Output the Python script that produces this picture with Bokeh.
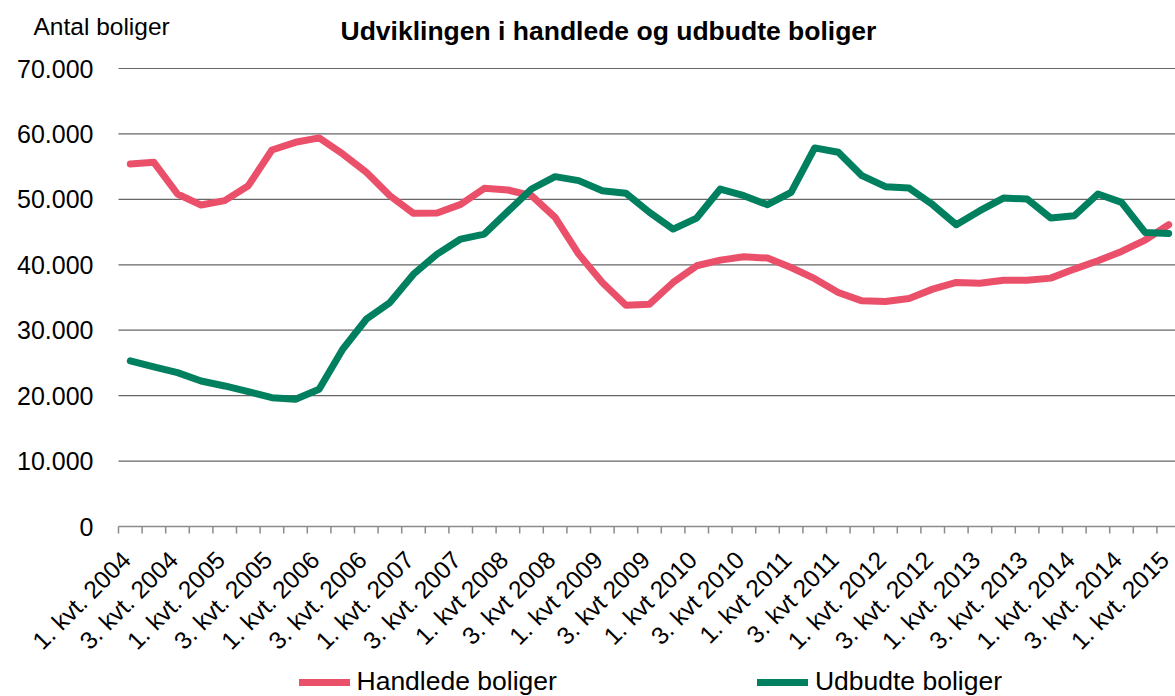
import math
from bokeh.plotting import figure
from bokeh.models import Label, Legend, LegendItem, Range1d
from bokeh.core.properties import value
from bokeh.embed import file_html
from bokeh.resources import INLINE

# ---- data ----
quarters = [f"{q}. kvt. {y}" for y in range(2004, 2016) for q in (1, 2, 3, 4)][:45]
x_tick_labels = ["1. kvt. 2004", "3. kvt. 2004", "1. kvt. 2005", "3. kvt. 2005",
                 "1. kvt. 2006", "3. kvt. 2006", "1. kvt. 2007", "3. kvt. 2007",
                 "1. kvt 2008", "3. kvt 2008", "1. kvt 2009", "3. kvt 2009",
                 "1. kvt 2010", "3. kvt 2010", "1. kvt 2011", "3. kvt 2011",
                 "1. kvt. 2012", "3. kvt. 2012", "1. kvt. 2013", "3. kvt. 2013",
                 "1. kvt. 2014", "3. kvt. 2014", "1. kvt. 2015"]
y_ticks = [0, 10000, 20000, 30000, 40000, 50000, 60000, 70000]
y_tick_labels = ["0", "10.000", "20.000", "30.000", "40.000", "50.000", "60.000", "70.000"]

handlede = [55400, 55660, 50820, 49130, 49800, 52090, 57550, 58720, 59390, 56940,
            54130, 50560, 47860, 47910, 49230, 51680, 51430, 50560, 47240, 41630,
            37300, 33830, 33980, 37300, 39850, 40710, 41220, 41020, 39590, 37880,
            35760, 34490, 34390, 34850, 36280, 37300, 37190, 37650, 37650, 37960,
            39340, 40610, 42040, 43780, 46120]
udbudte = [25310, 24390, 23520, 22240, 21480, 20610, 19690, 19440, 20970, 27090,
           31680, 34230, 38570, 41630, 43930, 44690, 48160, 51580, 53470, 52860,
           51330, 50920, 48010, 45460, 47140, 51580, 50560, 49180, 51070, 57860,
           57190, 53620, 51940, 51730, 49180, 46120, 48270, 50200, 50050, 47140,
           47500, 50820, 49540, 44950, 44800]

series_names = ["Handlede boliger", "Udbudte boliger"]
colors = ["#EB506B", "#00805F"]
title_text = "Udviklingen i handlede og udbudte boliger"
y_title = "Antal boliger"

# ---- layout (pixels) ----
W, H = 1175, 696
PLOT_LEFT, PLOT_TOP, PLOT_BOTTOM = 118, 68, 526   # where x=-0.5, y=70000, y=0 fall
CAT_PX = 23.6                                      # width of one quarter
FONT = "Liberation Sans"

units_per_px = y_ticks[-1] / (PLOT_BOTTOM - PLOT_TOP)
x0 = -0.5 - PLOT_LEFT / CAT_PX
x1 = x0 + W / CAT_PX
y0 = -(H - PLOT_BOTTOM) * units_per_px
y1 = PLOT_BOTTOM * units_per_px

p = figure(width=W, height=H, output_backend="svg", toolbar_location=None,
           x_range=Range1d(x0, x1), y_range=Range1d(y0, y1),
           x_axis_location=None, y_axis_location=None, title_location=None,
           min_border_left=0, min_border_right=0, min_border_top=0,
           min_border_bottom=0, outline_line_color=None)
p.xgrid.visible = False
p.ygrid.visible = False
p.background_fill_color = "white"
p.border_fill_color = "white"

# horizontal gridlines
n_cat = len(quarters)
grid_vals = y_ticks[1:]
p.segment(x0=[-0.5] * len(grid_vals), x1=[x1] * len(grid_vals), y0=grid_vals, y1=grid_vals,
          line_color="#666666", line_width=1.2)

# category axis line and tick marks at the category boundaries
p.segment(x0=[-0.5], x1=[x1], y0=[0], y1=[0], line_color="#8c8c8c", line_width=1.5)
bounds = [i - 0.5 for i in range(n_cat + 1)]
p.segment(x0=bounds, x1=bounds, y0=[0] * len(bounds), y1=[-7 * units_per_px] * len(bounds),
          line_color="#8c8c8c", line_width=1.5)

# series
xs = list(range(n_cat))
r1 = p.line(xs, handlede, line_color=colors[0], line_width=7,
            line_cap="round", line_join="round")
r2 = p.line(xs, udbudte, line_color=colors[1], line_width=7,
            line_cap="round", line_join="round")

# category tick labels (every second quarter, rotated 45 degrees)
label_pos = list(range(0, n_cat, 2))
p.text(x=label_pos, y=[0] * len(label_pos), text=x_tick_labels, angle=math.pi / 4,
       x_offset=-4, y_offset=29, text_align="right", text_baseline="middle",
       text_font=value(FONT), text_font_size="24.5px", text_color="#000000")

# value tick labels
p.text(x=[-0.5] * len(y_ticks), y=y_ticks, text=y_tick_labels, x_offset=-25,
       text_align="right", text_baseline="middle",
       text_font=value(FONT), text_font_size="25px", text_color="#000000")

# titles
p.add_layout(Label(x=340, y=H - 30, x_units="screen", y_units="screen", text=title_text,
                   text_align="left", text_baseline="alphabetic", text_font=FONT,
                   text_font_size="26.5px", text_font_style="bold", text_color="#000000"))
p.add_layout(Label(x=33, y=H - 26, x_units="screen", y_units="screen", text=y_title,
                   text_align="left", text_baseline="alphabetic", text_font=FONT,
                   text_font_size="24.5px", text_color="#000000"))

# legend
lg = Legend(items=[LegendItem(label=series_names[0], renderers=[r1]),
                   LegendItem(label=series_names[1], renderers=[r2])],
            location=(298.5, -1), orientation="horizontal", glyph_width=51,
            glyph_height=26, label_height=26, label_standoff=7, spacing=200,
            padding=0, margin=0, border_line_color=None, background_fill_alpha=0,
            label_text_font=FONT, label_text_font_size="26.5px",
            label_text_color="#000000")
p.add_layout(lg, "center")

open("out.html", "w").write(file_html(p, INLINE))
